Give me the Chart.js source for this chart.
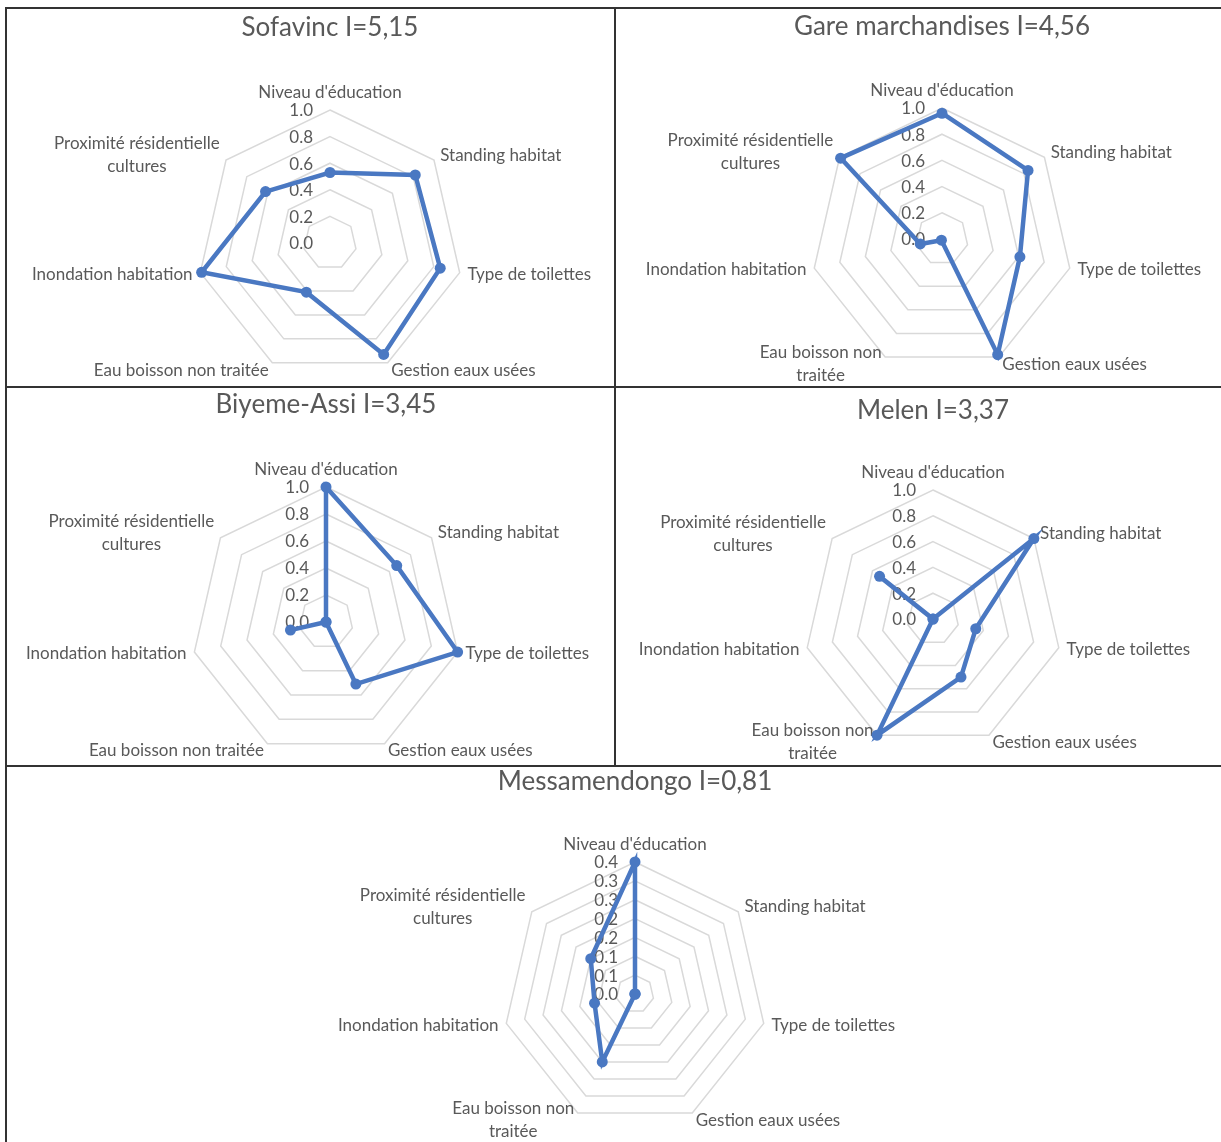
<!DOCTYPE html>
<html><head><meta charset="utf-8">
<script src="https://cdn.jsdelivr.net/npm/chart.js@4.4.0/dist/chart.umd.min.js"></script>
<style>
html,body{margin:0;padding:0;background:#fff;width:1221px;height:1142px;overflow:hidden;position:relative}
.panel{position:absolute}
.line{position:absolute;background:#333333;z-index:5}
</style></head><body>
<div id="root"></div>
<script>
// ---- data ----
const categories = ["Niveau d'éducation","Standing habitat","Type de toilettes","Gestion eaux usées","Eau boisson non traitée","Inondation habitation","Proximité résidentielle cultures"];
const titles = ["Sofavinc I=5,15","Gare marchandises I=4,56","Biyeme-Assi I=3,45","Melen I=3,37","Messamendongo I=0,81"];
const sofavinc = [0.53,0.82,0.85,0.93,0.41,0.99,0.62];
const gareMarchandises = [0.96,0.84,0.61,0.98,0.01,0.17,0.99];
const biyemeAssi = [1.0,0.67,1.0,0.51,0,0.27,0];
const melen = [0,1.0,0.34,0.50,1.0,0,0.53];
const messamendongo = [0.35,0,0,0,0.20,0.11,0.15];
const tickLabelsUnit = ["0.0","0.2","0.4","0.6","0.8","1.0"];
const tickLabelsMessa = ["0.0","0.1","0.1","0.2","0.2","0.3","0.3","0.4"];
const scaleUnit = {max:1.0, step:0.2};
const scaleMessa = {max:0.35, step:0.05};

// ---- layout ----
const FONT = 'Lato';
const panels = [
  {x:6,  y:8,   w:609, h:378, cx:330, cy:243, R:133, ty:28,  data:sofavinc,        title:titles[0], ticks:tickLabelsUnit,  sc:scaleUnit,  wrap:210},
  {x:616,y:8,   w:605, h:378, cx:942, cy:239, R:131, ty:27,  data:gareMarchandises,title:titles[1], ticks:tickLabelsUnit,  sc:scaleUnit,  wrap:170},
  {x:6,  y:388, w:609, h:377, cx:326, cy:622, R:135, ty:405, data:biyemeAssi,      title:titles[2], ticks:tickLabelsUnit,  sc:scaleUnit,  wrap:210},
  {x:616,y:388, w:605, h:377, cx:933, cy:619, R:129, ty:411, data:melen,           title:titles[3], ticks:tickLabelsUnit,  sc:scaleUnit,  wrap:170},
  {x:6,  y:767, w:1215,h:375, cx:635, cy:994, R:132, ty:782, data:messamendongo,   title:titles[4], ticks:tickLabelsMessa, sc:scaleMessa, wrap:170}
];

function wrapText(ctx, text, maxW){
  const words = text.split(' '); const lines = []; let cur = '';
  words.forEach(w=>{
    const t = cur ? cur + ' ' + w : w;
    if (cur && ctx.measureText(t).width > maxW){ lines.push(cur); cur = w; } else cur = t;
  });
  if (cur) lines.push(cur);
  return lines;
}

const excelText = {
  id:'excelText',
  beforeDatasetsDraw(chart, args, o){
    const ctx = chart.ctx, s = chart.scales.r;
    ctx.save();
    ctx.fillStyle = '#595959';
    ctx.textBaseline = 'middle';
    // title
    ctx.font = `${o.titleSize}px ${FONT}`; ctx.textAlign = 'center';
    ctx.fillText(o.title, s.xCenter, o.titleY);
    // tick labels
    ctx.font = `${o.fontSize}px ${FONT}`; ctx.textAlign = 'right';
    s.ticks.forEach((t,i)=>{
      const d = s.getDistanceFromCenterForValue(t.value);
      ctx.fillText(o.tickLabels[i], s.xCenter - o.tickGap, s.yCenter - d + 1);
    });
    // point labels
    ctx.textAlign = 'center';
    chart.data.labels.forEach((lab,i)=>{
      const lines = wrapText(ctx, lab, o.wrap);
      const p = s.getPointPosition(i, s.drawingArea + o.labelGap);
      const deg = ((s.getIndexAngle(i)*180/Math.PI) % 360 + 360) % 360;
      const lh = o.lineHeight, bh = lines.length*lh;
      const bw = Math.max(...lines.map(l=>ctx.measureText(l).width));
      let bx, yTop;
      if (deg < 1 || deg > 359){ bx = p.x - bw/2; yTop = p.y - bh + 2; }
      else if (deg < 180){ bx = p.x; yTop = p.y - bh/2; }
      else { bx = p.x - bw; yTop = p.y - bh/2; }
      lines.forEach((l,k)=> ctx.fillText(l, bx + bw/2, yTop + lh*(k+0.5)));
    });
    ctx.restore();
  }
};

const root = document.getElementById('root');
panels.forEach((P)=>{
  const div = document.createElement('div');
  div.className = 'panel';
  Object.assign(div.style,{left:P.x+'px',top:P.y+'px',width:P.w+'px',height:P.h+'px'});
  const cv = document.createElement('canvas');
  div.appendChild(cv); root.appendChild(div);
  const pad = {left:P.cx-P.R-P.x, right:(P.x+P.w)-(P.cx+P.R), top:P.cy-P.R-P.y, bottom:(P.y+P.h)-(P.cy+P.R)};
  new Chart(cv,{
    type:'radar',
    data:{labels:categories, datasets:[{data:P.data, borderColor:'#4a78c2', backgroundColor:'#4a78c2', fill:false, borderWidth:4.5,
      pointRadius:5.5, pointBorderWidth:0, pointBackgroundColor:'#4a78c2', clip:false, tension:0}]},
    options:{
      responsive:true, maintainAspectRatio:false, animation:false, devicePixelRatio:1,
      layout:{padding:pad},
      plugins:{legend:{display:false}, tooltip:{enabled:false}, title:{display:false},
        excelText:{title:P.title, titleY:P.ty-P.y, titleSize:26, fontSize:17, lineHeight:23, tickGap:17, labelGap:8, wrap:P.wrap, tickLabels:P.ticks}},
      scales:{r:{min:0, max:P.sc.max, beginAtZero:true,
        ticks:{display:false, stepSize:P.sc.step},
        pointLabels:{display:false},
        angleLines:{display:false},
        grid:{circular:false, color:'#d9d9d9', lineWidth:1.5}}}
    },
    plugins:[excelText]
  });
});

// frame lines
[[5,7,1216,2],[5,7,2,1135],[614,7,2,759],[5,386,1216,2],[5,765,1216,2]].forEach(a=>{
  const d = document.createElement('div'); d.className='line';
  Object.assign(d.style,{left:a[0]+'px',top:a[1]+'px',width:a[2]+'px',height:a[3]+'px'});
  root.appendChild(d);
});
</script>
</body></html>
